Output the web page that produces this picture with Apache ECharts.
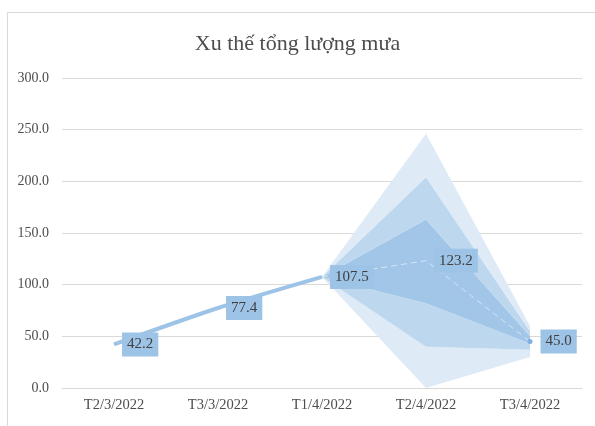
<!DOCTYPE html>
<html>
<head>
<meta charset="utf-8">
<script src="https://cdn.jsdelivr.net/npm/echarts@6/dist/echarts.min.js"></script>
<style>
html, body { margin: 0; padding: 0; background: #fff; }
#main { width: 595px; height: 426px; }
</style>
</head>
<body>
<div id="main"></div>
<script>
// Xu thế tổng lượng mưa - fan chart
var categories = ['T2/3/2022', 'T3/3/2022', 'T1/4/2022', 'T2/4/2022', 'T3/4/2022'];
var observed = [42.2, 77.4, 107.5, '-', '-'];
var forecast = ['-', '-', 107.5, 123.2, 45.0];
// khoảng dự báo (trên / dưới)
var outerUpper = ['-', '-', 107.5, 246, 60];
var middleUpper = ['-', '-', 107.5, 204, 55];
var innerUpper = ['-', '-', 107.5, 163, 50];
var innerLower = ['-', '-', 107.5, 82, 43];
var middleLower = ['-', '-', 107.5, 40, 37];
var outerLower = ['-', '-', 107.5, 0, 30];
var yTicks = [0, 50, 100, 150, 200, 250, 300];

function diff(a, b) {
    return a.map(function (v, i) {
        return v === '-' ? '-' : +(v - b[i]).toFixed(2);
    });
}

function fmt(p) {
    return typeof p.value === 'number' ? p.value.toFixed(1) : '';
}

var serif = 'Liberation Serif';
var bandColors = ['#deebf7', '#bdd7ee', '#a2c6e8', '#bdd7ee', '#deebf7'];
var bandData = [
    diff(middleLower, outerLower),
    diff(innerLower, middleLower),
    diff(innerUpper, innerLower),
    diff(middleUpper, innerUpper),
    diff(outerUpper, middleUpper)
];

var labelStyle = {
    show: true,
    position: 'right',
    distance: 8,
    offset: [0, 1],
    backgroundColor: '#9dc3e6',
    color: '#404040',
    fontFamily: serif,
    fontSize: 15,
    padding: [5, 5, 4, 5],
    formatter: fmt
};

var series = [{
    name: 'base',
    type: 'line',
    stack: 'fan',
    data: outerLower,
    symbol: 'none',
    lineStyle: { width: 0 },
    silent: true
}];
bandData.forEach(function (d, i) {
    series.push({
        name: 'band' + i,
        type: 'line',
        stack: 'fan',
        data: d,
        symbol: 'none',
        lineStyle: { width: 0 },
        areaStyle: { color: bandColors[i], opacity: 1 },
        silent: true
    });
});
series.push({
    name: 'Dự báo',
    type: 'line',
    data: forecast,
    showSymbol: true,
    showAllSymbol: true,
    symbol: 'circle',
    symbolSize: function (v, p) { return p.dataIndex === 4 ? 5 : 0.1; },
    itemStyle: { color: '#7fb0df' },
    lineStyle: { color: '#d6e6f5', width: 1, type: [6, 4] },
    label: Object.assign({}, labelStyle, {
        formatter: function (p) { return p.dataIndex === 2 ? '' : fmt(p); }
    }),
    labelLayout: { hideOverlap: false },
    z: 5
});
series.push({
    name: 'Thực đo',
    type: 'line',
    data: observed,
    smooth: 0.25,
    showSymbol: true,
    showAllSymbol: true,
    symbol: 'circle',
    symbolSize: 0.1,
    itemStyle: { color: '#9dc3e6' },
    lineStyle: { color: '#9dc3e6', width: 4 },
    label: labelStyle,
    labelLayout: { hideOverlap: false },
    z: 6
});

var chart = echarts.init(document.getElementById('main'));
var option = {
    animation: false,
    backgroundColor: '#fff',
    graphic: [{
        type: 'rect',
        shape: { x: 7.5, y: 12.5, width: 600, height: 430 },
        style: { fill: 'none', stroke: '#d9d9d9', lineWidth: 1 },
        silent: true
    }],
    title: {
        text: 'Xu thế tổng lượng mưa',
        left: 'center',
        top: 28,
        textStyle: { fontFamily: serif, fontSize: 22, fontWeight: 'normal', color: '#4d4d4d' }
    },
    grid: { left: 62, right: 13, top: 78, bottom: 38 },
    xAxis: {
        type: 'category',
        data: categories,
        boundaryGap: true,
        axisLine: { lineStyle: { color: '#d9d9d9' } },
        axisTick: { show: false },
        axisLabel: { fontFamily: serif, fontSize: 14.5, color: '#4d4d4d', margin: 10 }
    },
    yAxis: {
        type: 'value',
        min: yTicks[0],
        max: yTicks[yTicks.length - 1],
        interval: yTicks[1] - yTicks[0],
        axisLine: { show: false },
        axisTick: { show: false },
        splitLine: { lineStyle: { color: '#d9d9d9' } },
        axisLabel: {
            fontFamily: serif, fontSize: 14, color: '#4d4d4d', margin: 13,
            formatter: function (v) { return v.toFixed(1); }
        }
    },
    series: series
};
chart.setOption(option);
</script>
</body>
</html>
